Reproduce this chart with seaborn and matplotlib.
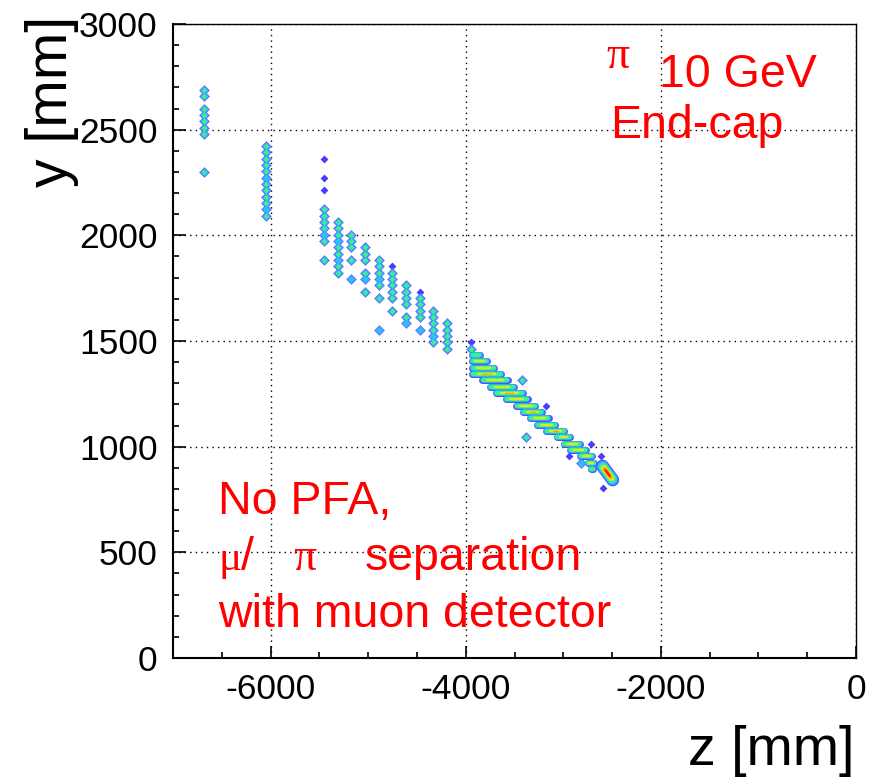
import numpy as np
import pandas as pd
import matplotlib
matplotlib.use("Agg")
import matplotlib.pyplot as plt
import seaborn as sns
from matplotlib.ticker import MultipleLocator

# ---------------- data ----------------
# muon-detector layers: z position [mm], hit y positions [mm], hit intensity level (1-3)
layer_z = [-6680, -6050, -5452, -5312, -5172, -5032, -4892, -4752, -4612, -4471, -4332, -4191, -3946]
layer_hit_y = [
    [2690, 2660, 2600, 2570, 2540, 2510, 2480, 2300],
    [2423, 2393, 2363, 2333, 2303, 2273, 2243, 2213, 2183, 2153, 2123, 2093],
    [2363, 2273, 2213, 2123, 2093, 2063, 2033, 2003, 1973, 1883],
    [2063, 2033, 2003, 1973, 1943, 1913, 1883, 1853, 1823],
    [2003, 1973, 1943, 1883, 1793],
    [1943, 1913, 1883, 1823, 1793, 1733],
    [1883, 1853, 1823, 1793, 1763, 1703, 1553],
    [1853, 1823, 1793, 1763, 1733, 1703, 1643],
    [1763, 1733, 1703, 1673, 1613, 1583],
    [1733, 1703, 1673, 1643, 1613, 1553],
    [1643, 1613, 1583, 1553, 1523, 1494],
    [1583, 1553, 1523, 1494, 1463],
    [1494, 1462],
]
layer_hit_level = [
    [3, 3, 3, 3, 3, 3, 3, 3],
    [3, 3, 3, 3, 3, 2, 3, 3, 3, 3, 2, 3],
    [1, 1, 1, 3, 3, 3, 3, 2, 3, 3],
    [3, 3, 3, 2, 3, 3, 2, 3, 3],
    [3, 3, 3, 3, 2],
    [3, 3, 3, 3, 2, 3],
    [3, 3, 3, 2, 3, 3, 2],
    [1, 3, 3, 3, 3, 3, 3],
    [3, 3, 3, 3, 3, 2],
    [1, 3, 3, 3, 3, 2],
    [3, 3, 3, 3, 2, 3],
    [3, 3, 3, 3, 3],
    [1, 3],
]
# isolated hits near the calorimeter track
iso_z = [-3426, -3177, -3385, -2719, -2938, -2613, -2822, -2590]
iso_y = [1314, 1194, 1044, 1014, 954, 954, 924, 803]
iso_level = [3, 1, 3, 1, 1, 1, 2, 1]

# calorimeter layers: hit extent in z and y [mm], intensity level
bar_z0 = [-3933, -3933, -3933, -3933, -3831, -3755, -3693, -3591, -3482, -3414,
          -3339, -3270, -3175, -3065, -2996, -2929, -2826, -2744, -2713]
bar_z1 = [-3856, -3781, -3706, -3638, -3569, -3501, -3412, -3364, -3286, -3217,
          -3149, -3081, -2989, -2933, -2831, -2769, -2702, -2687, -2695]
bar_y = [1434, 1404, 1374, 1344, 1314, 1284, 1254, 1224, 1194, 1164,
         1134, 1104, 1074, 1044, 1014, 984, 954, 924, 894]
bar_level = [3, 4, 4, 5, 4, 4, 5, 4, 4, 5, 4, 4, 5, 4, 4, 4, 4, 4, 3]

# hadronic shower core at the end of the track
shower_z = [-2598, -2494]
shower_y = [908, 843]
shower_level = 6

x_ticks = [-6000, -4000, -2000, 0]
y_ticks = [0, 500, 1000, 1500, 2000, 2500, 3000]

# ---------------- style ----------------
sns.set_theme(style="white")
plt.rcParams["font.family"] = ["Liberation Sans", "DejaVu Sans"]
plt.rcParams["axes.unicode_minus"] = False
plt.rcParams["text.color"] = "black"

palette = ["#5050ff", "#28b8ff", "#3cf08c", "#d2f020", "#ffa000", "#ff2000"]
PX = 0.72  # points per pixel at 100 dpi

W, H = 877, 780
fig = plt.figure(figsize=(W / 100, H / 100), dpi=100)
ax = fig.add_axes([173 / W, 1 - 658 / H, 683 / W, 634 / H])

# ---------------- point hits ----------------
pz, py, pl = [], [], []
for z, ys, ls in zip(layer_z, layer_hit_y, layer_hit_level):
    for y, l in zip(ys, ls):
        pz.append(z); py.append(y); pl.append(l)
pz += iso_z; py += iso_y; pl += iso_level
pts = pd.DataFrame({"z": pz, "y": py, "level": pl})

low = pts[pts.level == 1]
sns.scatterplot(data=low, x="z", y="y", marker="D", s=16, color="#4a3cff",
                linewidth=0, ax=ax, zorder=3)
layer_specs = [(2, 30, "#6070ff"), (2, 16, "#28c0ff"), (3, 8, "#40f080")]
for i, (minlev, size, col) in enumerate(layer_specs):
    sub = pts[pts.level >= minlev]
    sns.scatterplot(data=sub, x="z", y="y", marker="D", s=size, color=col,
                    linewidth=0, ax=ax, zorder=4 + i)

# ---------------- calorimeter segments ----------------
def seg_frame(z0s, z1s, y0s, y1s, levels, k, frac):
    rows = []
    for i, (a, b, c, d, l) in enumerate(zip(z0s, z1s, y0s, y1s, levels)):
        if l < k:
            continue
        t0, t1 = 0.5 - frac / 2, 0.5 + frac / 2
        rows.append((i, a + (b - a) * t0, c + (d - c) * t0))
        rows.append((i, a + (b - a) * t1, c + (d - c) * t1))
    return pd.DataFrame(rows, columns=["seg", "z", "y"])

bar_w = [7.0, 5.6, 4.3, 2.4, 1.3]
bar_f = [1.0, 0.97, 0.92, 0.6, 0.3]
for k in range(1, 6):
    df = seg_frame(bar_z0, bar_z1, bar_y, bar_y, bar_level, k, bar_f[k - 1])
    if len(df):
        sns.lineplot(data=df, x="z", y="y", units="seg", estimator=None, sort=False,
                     color=palette[k - 1], linewidth=bar_w[k - 1] * PX,
                     solid_capstyle="round", ax=ax, zorder=10 + k)

sh_w = [13, 11, 8.6, 6, 4, 2.3]
sh_f = [1.0, 0.95, 0.85, 0.72, 0.58, 0.42]
for k in range(1, 7):
    df = seg_frame([shower_z[0]], [shower_z[1]], [shower_y[0]], [shower_y[1]],
                   [shower_level], k, sh_f[k - 1])
    sns.lineplot(data=df, x="z", y="y", units="seg", estimator=None, sort=False,
                 color=palette[k - 1], linewidth=sh_w[k - 1] * PX,
                 solid_capstyle="round", ax=ax, zorder=20 + k)

# ---------------- axes ----------------
ax.set_xlim(-7000, 0)
ax.set_ylim(0, 3000)
ax.set_xticks(x_ticks)
ax.set_yticks(y_ticks)
ax.xaxis.set_minor_locator(MultipleLocator(500))
ax.yaxis.set_minor_locator(MultipleLocator(100))
ax.set_xlabel("")
ax.set_ylabel("")
ax.tick_params(axis="both", which="major", direction="in", length=9, width=1.2,
               labelsize=25.5, color="black", labelcolor="black",
               bottom=True, left=True, top=False, right=False)
ax.tick_params(axis="both", which="minor", direction="in", length=4.5, width=1.2,
               color="black", bottom=True, left=True, top=False, right=False)
ax.tick_params(axis="x", which="major", pad=11)
ax.tick_params(axis="y", which="major", pad=11)
ax.grid(True, which="major", color="black", linestyle=(0, (1, 3)), linewidth=1.0)
ax.set_axisbelow(True)
for side, sp in ax.spines.items():
    sp.set_visible(True)
    sp.set_color("black")
    sp.set_linewidth(1.5 if side in ("left", "bottom") else 1.0)

# axis titles
fig.text(855 / W, 1 - 765 / H, "z [mm]", ha="right", va="baseline", fontsize=40,
         color="black")
fig.text(52 / W, 1 - 16 / H, "y [mm]", ha="center", va="top", rotation=90, fontsize=41,
         color="black")

# ---------------- annotations ----------------
red = "#ff0000"
serif = ["Liberation Serif", "DejaVu Serif"]
def ftext(x, y, s, fam=None, size=33.5):
    kw = {"family": fam} if fam else {}
    fig.text(x / W, 1 - y / H, s, ha="left", va="baseline", color=red, fontsize=size, **kw)

ftext(606, 68, "π", serif, 33)
ftext(659, 87, "10 GeV")
ftext(610, 138, "End-cap")
ftext(218, 514, "No PFA,")
ftext(218, 570, "μ", serif, 31)
ftext(241, 570, "/")
ftext(293, 570, "π", serif, 33)
ftext(365, 570, "separation")
ftext(218, 627, "with muon detector")

fig.savefig("out.png", dpi=100)
